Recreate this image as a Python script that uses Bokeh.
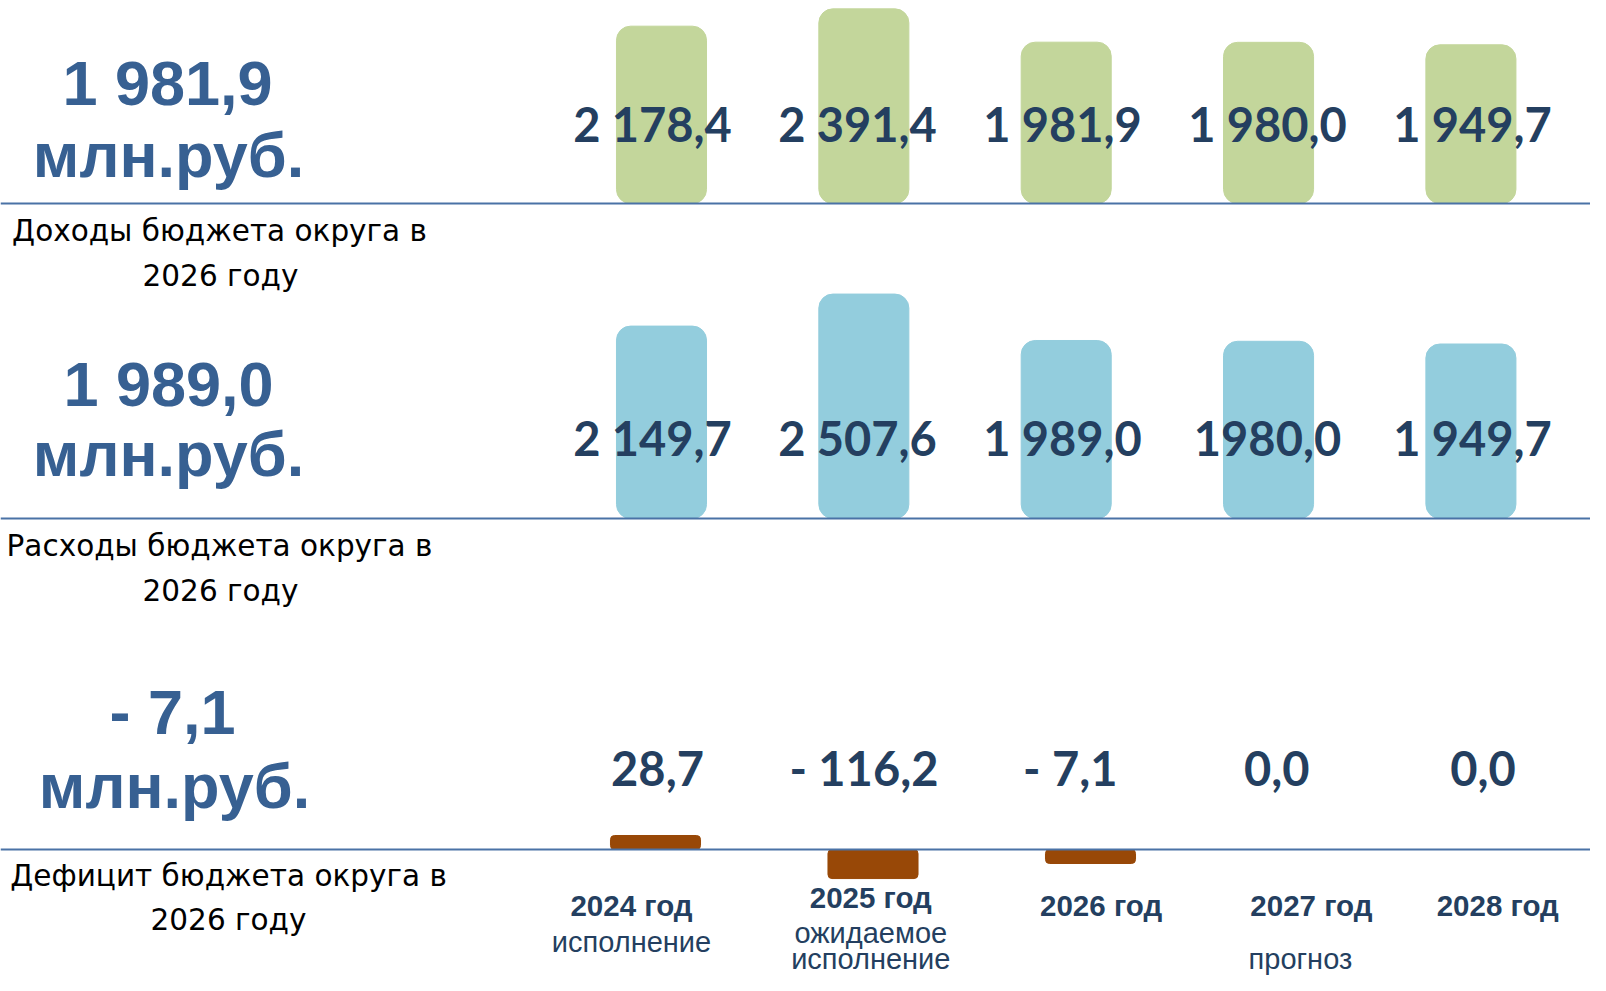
import numpy as np
from bokeh.plotting import figure
from bokeh.models import Range1d, Span
from bokeh.core.properties import value
from bokeh.embed import file_html
from bokeh.resources import INLINE

# ---------------- data ----------------
years = ["2024 год", "2025 год", "2026 год", "2027 год", "2028 год"]
year_notes = ["исполнение", "ожидаемое\nисполнение", "", "\nпрогноз", ""]

income = [2178.4, 2391.4, 1981.9, 1980.0, 1949.7]
income_labels = ["2 178,4", "2 391,4", "1 981,9", "1 980,0", "1 949,7"]

expenses = [2149.7, 2507.6, 1989.0, 1980.0, 1949.7]
expenses_labels = ["2 149,7", "2 507,6", "1 989,0", "1980,0", "1 949,7"]

balance = [28.7, -116.2, -7.1, 0.0, 0.0]
balance_labels = ["28,7", "- 116,2", "- 7,1", "0,0", "0,0"]

summary_values = ["1 981,9", "1 989,0", "- 7,1"]
summary_unit = "млн.руб."
summary_titles = ["Доходы бюджета округа в\n2026 году",
                  "Расходы бюджета округа в\n2026 году",
                  "Дефицит бюджета округа в\n2026 году"]

# ---------------- layout (figure pixels) ----------------
W, H = 1590, 975
GREEN, BLUE, BROWN = "#C3D69B", "#93CDDD", "#984807"
NAVY, STEEL, RULE = "#243F60", "#376092", "#4A72A6"
BL = 0.365  # measured shift of an 'alphabetic' text, in em

# caption nudges (screen px) to follow the slide's hand placement
cap_dx = [-16, 6, 19, 12, -19]
cap_dy = [0, -8, 0, 0, 0]
note1_dy = [7, -2, 0, 0, 0]
note2_dx = [0, 6, 0, 1, 0]


def slot_range(first_px, step_px):
    return Range1d((0 - first_px) / step_px, (W - first_px) / step_px)


def value_range(base_px, px_per_unit):
    return Range1d(start=(base_px - H) / px_per_unit, end=(base_px - 0) / px_per_unit)


def base(y, size):
    return y - BL * size


p = figure(width=W, height=H, output_backend="svg", toolbar_location=None,
           x_range=Range1d(0, W), y_range=Range1d(H, 0),
           x_axis_location=None, y_axis_location=None, min_border=0,
           outline_line_color=None, background_fill_color="white")
p.grid.visible = False

p.extra_x_ranges = {"cat": slot_range(661, 202.35),   # income / expense bars
                    "val": slot_range(652, 205.0),    # income / expense value labels
                    "bal": slot_range(655, 217.5),    # balance bars
                    "dval": slot_range(657, 206.4),   # balance value labels
                    "lab": slot_range(647, 217.3)}    # year captions
p.extra_y_ranges = {"inc": value_range(203, 0.0814),
                    "exp": value_range(518, 0.0895),
                    "def": value_range(849, 0.25)}

idx = list(range(len(years)))

# minimum visible bar height for the small balance bars (value units)
bal = np.array(balance)
bal_min = 56
bal_shown = np.where(bal == 0, 0, np.sign(bal) * np.maximum(np.abs(bal), bal_min))

# bars
p.vbar(x=idx, top=income, bottom=0, width=0.445, color=GREEN, border_radius=14,
       x_range_name="cat", y_range_name="inc")
p.vbar(x=idx, top=expenses, bottom=0, width=0.445, color=BLUE, border_radius=14,
       x_range_name="cat", y_range_name="exp")
p.vbar(x=idx, top=bal_shown, bottom=0, width=0.414, color=BROWN, border_radius=4,
       x_range_name="bal", y_range_name="def")

# baselines
for rng in ["inc", "exp", "def"]:
    p.add_layout(Span(location=0, dimension="width", y_range_name=rng,
                      line_color=RULE, line_width=2))

# value labels
VS = 47
val_font = dict(text_font=value("Lato"), text_font_size=value(f"{VS}px"), text_font_style="bold",
                text_color=NAVY, text_align="center", text_baseline="alphabetic")
p.text(x=idx, y=[base(141, VS)] * 5, text=income_labels, x_range_name="val", **val_font)
p.text(x=idx, y=[base(455, VS)] * 5, text=expenses_labels, x_range_name="val", **val_font)
p.text(x=idx, y=[base(785, VS)] * 5, text=balance_labels, x_range_name="dval", **val_font)

# year captions
YS, NS = 29.5, 29
p.text(x=idx, y=[base(916, YS) + d for d in cap_dy], text=years, x_range_name="lab",
       x_offset=cap_dx,
       text_font=value("Liberation Sans"), text_font_size=value(f"{YS}px"), text_font_style="bold",
       text_color=NAVY, text_align="center", text_baseline="alphabetic")
note1 = [n.split("\n")[0] for n in year_notes]
note2 = [(n.split("\n") + [""])[1] for n in year_notes]
note_font = dict(text_font=value("Liberation Sans"), text_font_size=value(f"{NS}px"),
                 text_color=NAVY, text_align="center", text_baseline="alphabetic")
p.text(x=idx, y=[base(945, NS) + d for d in note1_dy], text=note1, x_range_name="lab",
       x_offset=cap_dx, **note_font)
p.text(x=idx, y=[base(969, NS)] * 5, text=note2, x_range_name="lab",
       x_offset=note2_dx, **note_font)

# left summary block
BS = 63
big = dict(text_font=value("Liberation Sans"), text_font_size=value(f"{BS}px"), text_font_style="bold",
           text_color=STEEL, text_align="center", text_baseline="alphabetic")
p.text(x=[167, 168, 172], y=[base(v, BS) for v in (105, 406, 734)], text=summary_values, **big)
p.text(x=[168, 168, 174], y=[base(v, BS) for v in (177, 476, 808)], text=[summary_unit] * 3, **big)

TS = 29.5
title_font = dict(text_font=value("DejaVu Sans"), text_font_size=value(f"{TS}px"),
                  text_color="black", text_align="center", text_baseline="alphabetic")
t1 = [t.split("\n")[0] for t in summary_titles]
t2 = [t.split("\n")[1] for t in summary_titles]
p.text(x=[219, 219, 228], y=[base(v, TS) for v in (241, 556, 886)], text=t1, **title_font)
p.text(x=[220, 220, 228], y=[base(v, TS) for v in (286, 601, 930)], text=t2, **title_font)

open("out.html", "w").write(file_html(p, INLINE))
